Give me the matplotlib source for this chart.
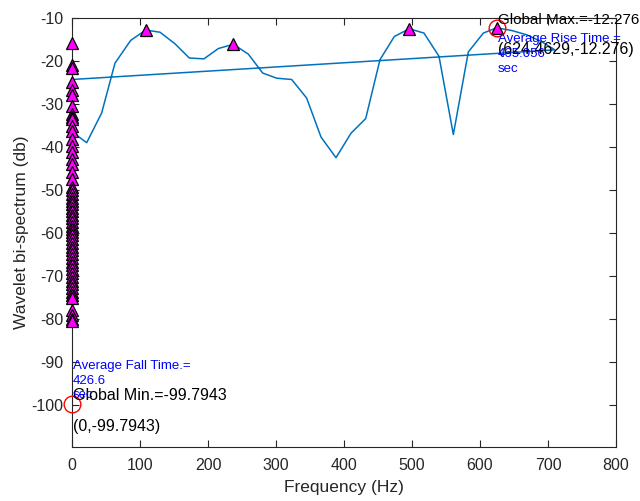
import matplotlib
matplotlib.use("Agg")
import matplotlib.pyplot as plt

plt.rcParams['font.family'] = ['Liberation Sans', 'DejaVu Sans']
plt.rcParams['axes.unicode_minus'] = False

# bi-spectrum curve (Hz, dB)
freq = [0, 21.6, 43.6, 63.2, 86.3, 108.3, 129.4, 151.5, 172.5, 194.0, 215.2,
        237.3, 259.3, 280.4, 301.0, 323.0, 345.0, 366.2, 388.2, 410.3, 431.9,
        452.9, 474.0, 496.0, 517.6, 539.7, 560.8, 582.8, 604.9, 624.4629,
        646.6, 668.7, 690.7, 710.0]
spec_db = [-36.5, -39.0, -32.1, -20.5, -15.2, -12.8, -13.3, -16.0, -19.3, -19.5,
           -17.1, -16.1, -18.4, -22.8, -24.0, -24.3, -28.6, -37.7, -42.5, -36.8,
           -33.4, -19.7, -14.3, -12.5, -13.5, -18.9, -37.1, -17.9, -13.5, -12.276,
           -12.9, -13.9, -15.5, -17.4]

# values sitting at 0 Hz
zero_db = [-24.3, -15.8, -20.9, -21.6, -99.7943, -36.5]

# detected peaks
peak_f = [108.3, 237.3, 496.0, 624.4629]
peak_db = [-12.8, -16.1, -12.5, -12.276]
zero_peaks = [-15.8, -20.9, -21.6, -24.8, -26.7, -27.8, -30.4, -32.4, -33.0,
              -33.6, -35.2, -36.4, -38.2, -39.8, -41.2, -42.8, -44.0, -45.9,
              -47.5, -49.3, -50.1, -51.0, -51.8, -52.6, -53.3, -54.1, -55.0,
              -55.8, -56.6, -57.4, -58.3, -59.1, -59.7, -60.6, -61.5, -62.4,
              -63.2, -64.0, -64.9, -65.8, -66.7, -67.5, -68.4, -69.3, -70.2,
              -71.1, -72.0, -72.9, -73.8, -74.5, -75.2, -78.0, -79.2, -80.0,
              -80.6]

max_f, max_db = 624.4629, -12.276
min_f, min_db = 0, -99.7943
rise_time = '465.056'
fall_time = '426.6'

blue = (0, 0.447, 0.741)
axc = (0.15, 0.15, 0.15)

fig = plt.figure(figsize=(6.4, 5.01), dpi=100)
ax = fig.add_axes([0.1125, 0.108, 0.8500, 0.856])

line_f = [0] * len(zero_db) + freq + [0]
line_db = zero_db + spec_db + [zero_db[0]]
ax.plot(line_f, line_db, color=blue, lw=1.1, zorder=2)

ax.plot([0] * len(zero_peaks), zero_peaks, ls='none', marker='^', ms=8.5,
        mfc='magenta', mec='black', mew=0.9, clip_on=False, zorder=3)
ax.plot(peak_f, peak_db, ls='none', marker='^', ms=8.5,
        mfc='magenta', mec='black', mew=0.9, clip_on=False, zorder=3)

ax.plot([max_f, min_f], [max_db, min_db], ls='none', marker='o', ms=12,
        mfc='none', mec='red', mew=1.0, clip_on=False, zorder=4)

# annotations
ax.text(max_f + 2, -10.5, 'Global Max.=' + str(max_db), fontsize=11,
        va='center', ha='left', color='black', zorder=5)
ax.text(max_f + 2, -17.4, '(' + str(max_f) + ',' + str(max_db) + ')',
        fontsize=11.5, va='center', ha='left', color='black', zorder=5)
ax.text(max_f + 2, -18.4, 'Average Rise Time.=\n' + rise_time + '\nsec',
        fontsize=9.5, va='center', ha='left', color='blue', linespacing=1.32,
        zorder=6)

ax.text(min_f + 1, -94.4, 'Average Fall Time.=\n' + fall_time + '\nsec',
        fontsize=9.5, va='center', ha='left', color='blue', linespacing=1.26,
        zorder=6)
ax.text(min_f + 1, -97.8, 'Global Min.=' + str(min_db), fontsize=11.5,
        va='center', ha='left', color='black', zorder=5)
ax.text(min_f + 1, -105.1, '(' + str(min_f) + ',' + str(min_db) + ')',
        fontsize=11.5, va='center', ha='left', color='black', zorder=5)

ax.set_xlim(0, 800)
ax.set_ylim(-109.7943, -10)
ax.set_xticks(range(0, 801, 100))
ax.set_yticks(range(-100, -9, 10))

ax.tick_params(direction='in', length=5, width=0.8, colors=axc,
               labelsize=11.5, top=True, right=True, labelcolor=axc)
ax.tick_params(axis='x', pad=8)
ax.tick_params(axis='y', pad=6)
for s in ax.spines.values():
    s.set_color(axc)
    s.set_linewidth(0.8)

ax.set_xlabel('Frequency (Hz)', fontsize=12.5, color=axc, labelpad=5)
ax.set_ylabel('Wavelet bi-spectrum (db)', fontsize=12.5, color=axc, labelpad=2)

fig.savefig('out.png', dpi=100)
